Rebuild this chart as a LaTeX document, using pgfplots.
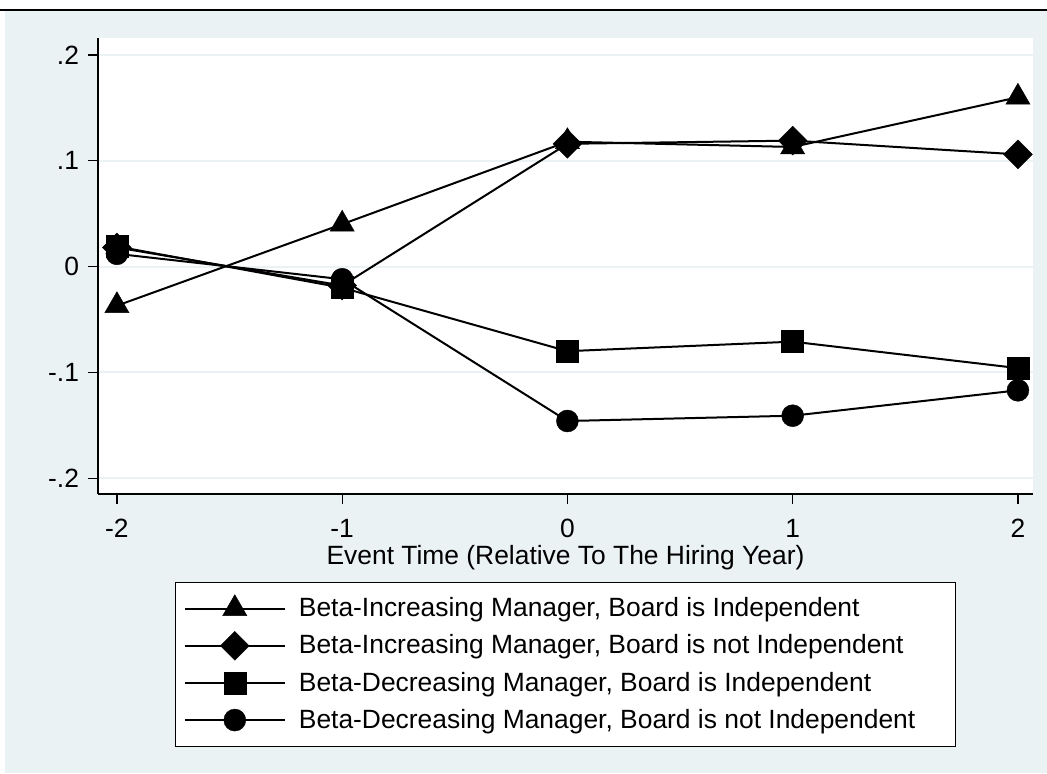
\documentclass[border=0pt]{standalone}
\usepackage{fontspec}
\setmainfont{Liberation Sans}
\usepackage{pgfplots}
\pgfplotsset{compat=1.18}
\definecolor{bgc}{RGB}{234,242,243}
\begin{document}
\begin{tikzpicture}
\useasboundingbox (0pt,0pt) rectangle (523.5pt,386.5pt);
\fill[white] (0pt,0pt) rectangle (523.5pt,386.5pt);
\fill[bgc] (2.5pt,0pt) rectangle (523.5pt,381pt);
\draw[black, line width=1pt] (0pt,381.5pt) -- (523.5pt,381.5pt);
\begin{axis}[
  at={(49pt,139.5pt)}, anchor=south west,
  scale only axis, width=467.5pt, height=228pt,
  xmin=-2.084, xmax=2.067, ymin=-0.215, ymax=0.216,
  axis x line*=bottom, axis y line*=left,
  axis line style={-, line width=0.7pt, black},
  axis background/.style={fill=white},
  xtick={-2,-1,0,1,2}, xticklabels={-2,-1,0,1,2},
  ytick={-0.2,-0.1,0,0.1,0.2}, yticklabels={-.2,-.1,0,.1,.2},
  tick align=outside, major tick length=5pt,
  tick style={black, line width=0.6pt},
  ymajorgrids, grid style={bgc, line width=1pt},
  /pgf/number format/assume math mode=true,
  tick label style={font=\fontsize{13.2}{15}\selectfont},
  xticklabel shift=4pt,
  yticklabel style={xshift=-1pt},
  label style={font=\fontsize{13.2}{15}\selectfont},
  xlabel={Event Time (Relative To The Hiring Year)},
  xlabel style={at={(axis description cs:0.5,-0.139)}, anchor=center},
  legend style={at={(0.5,-0.193)}, anchor=north, draw=black, line width=0.6pt, fill=white,
    font=\fontsize{13.2}{15}\selectfont, row sep=3.5pt, inner xsep=4pt, inner ysep=5.5pt,
    /tikz/every odd column/.append style={column sep=4.5pt}},
  legend cell align=left,
  legend image code/.code={\draw[#1, line width=1.1pt, mark repeat=2, mark phase=2] plot coordinates {(0pt,0pt) (25pt,0pt) (50pt,0pt)};},
]
\addplot[black, line width=1pt, mark=triangle*, mark size=7pt, mark options={solid, fill=black, line width=0.2pt}]
  coordinates {(-2,-0.037) (-1,0.040) (0,0.118) (1,0.113) (2,0.160)};
\addlegendentry{Beta-Increasing Manager, Board is Independent}
\addplot[black, line width=1pt, mark=square*, mark size=5.1pt, mark options={solid, fill=black, line width=0.2pt, rotate=45}]
  coordinates {(-2,0.018) (-1,-0.018) (0,0.116) (1,0.119) (2,0.106)};
\addlegendentry{Beta-Increasing Manager, Board is not Independent}
\addplot[black, line width=1pt, mark=square*, mark size=5.5pt, mark options={solid, fill=black, line width=0.2pt}]
  coordinates {(-2,0.019) (-1,-0.020) (0,-0.080) (1,-0.071) (2,-0.096)};
\addlegendentry{Beta-Decreasing Manager, Board is Independent}
\addplot[black, line width=1pt, mark=*, mark size=5.5pt, mark options={solid, fill=black, line width=0.2pt}]
  coordinates {(-2,0.012) (-1,-0.012) (0,-0.146) (1,-0.141) (2,-0.117)};
\addlegendentry{Beta-Decreasing Manager, Board is not Independent\hspace*{14pt}}
\end{axis}
\end{tikzpicture}
\end{document}
